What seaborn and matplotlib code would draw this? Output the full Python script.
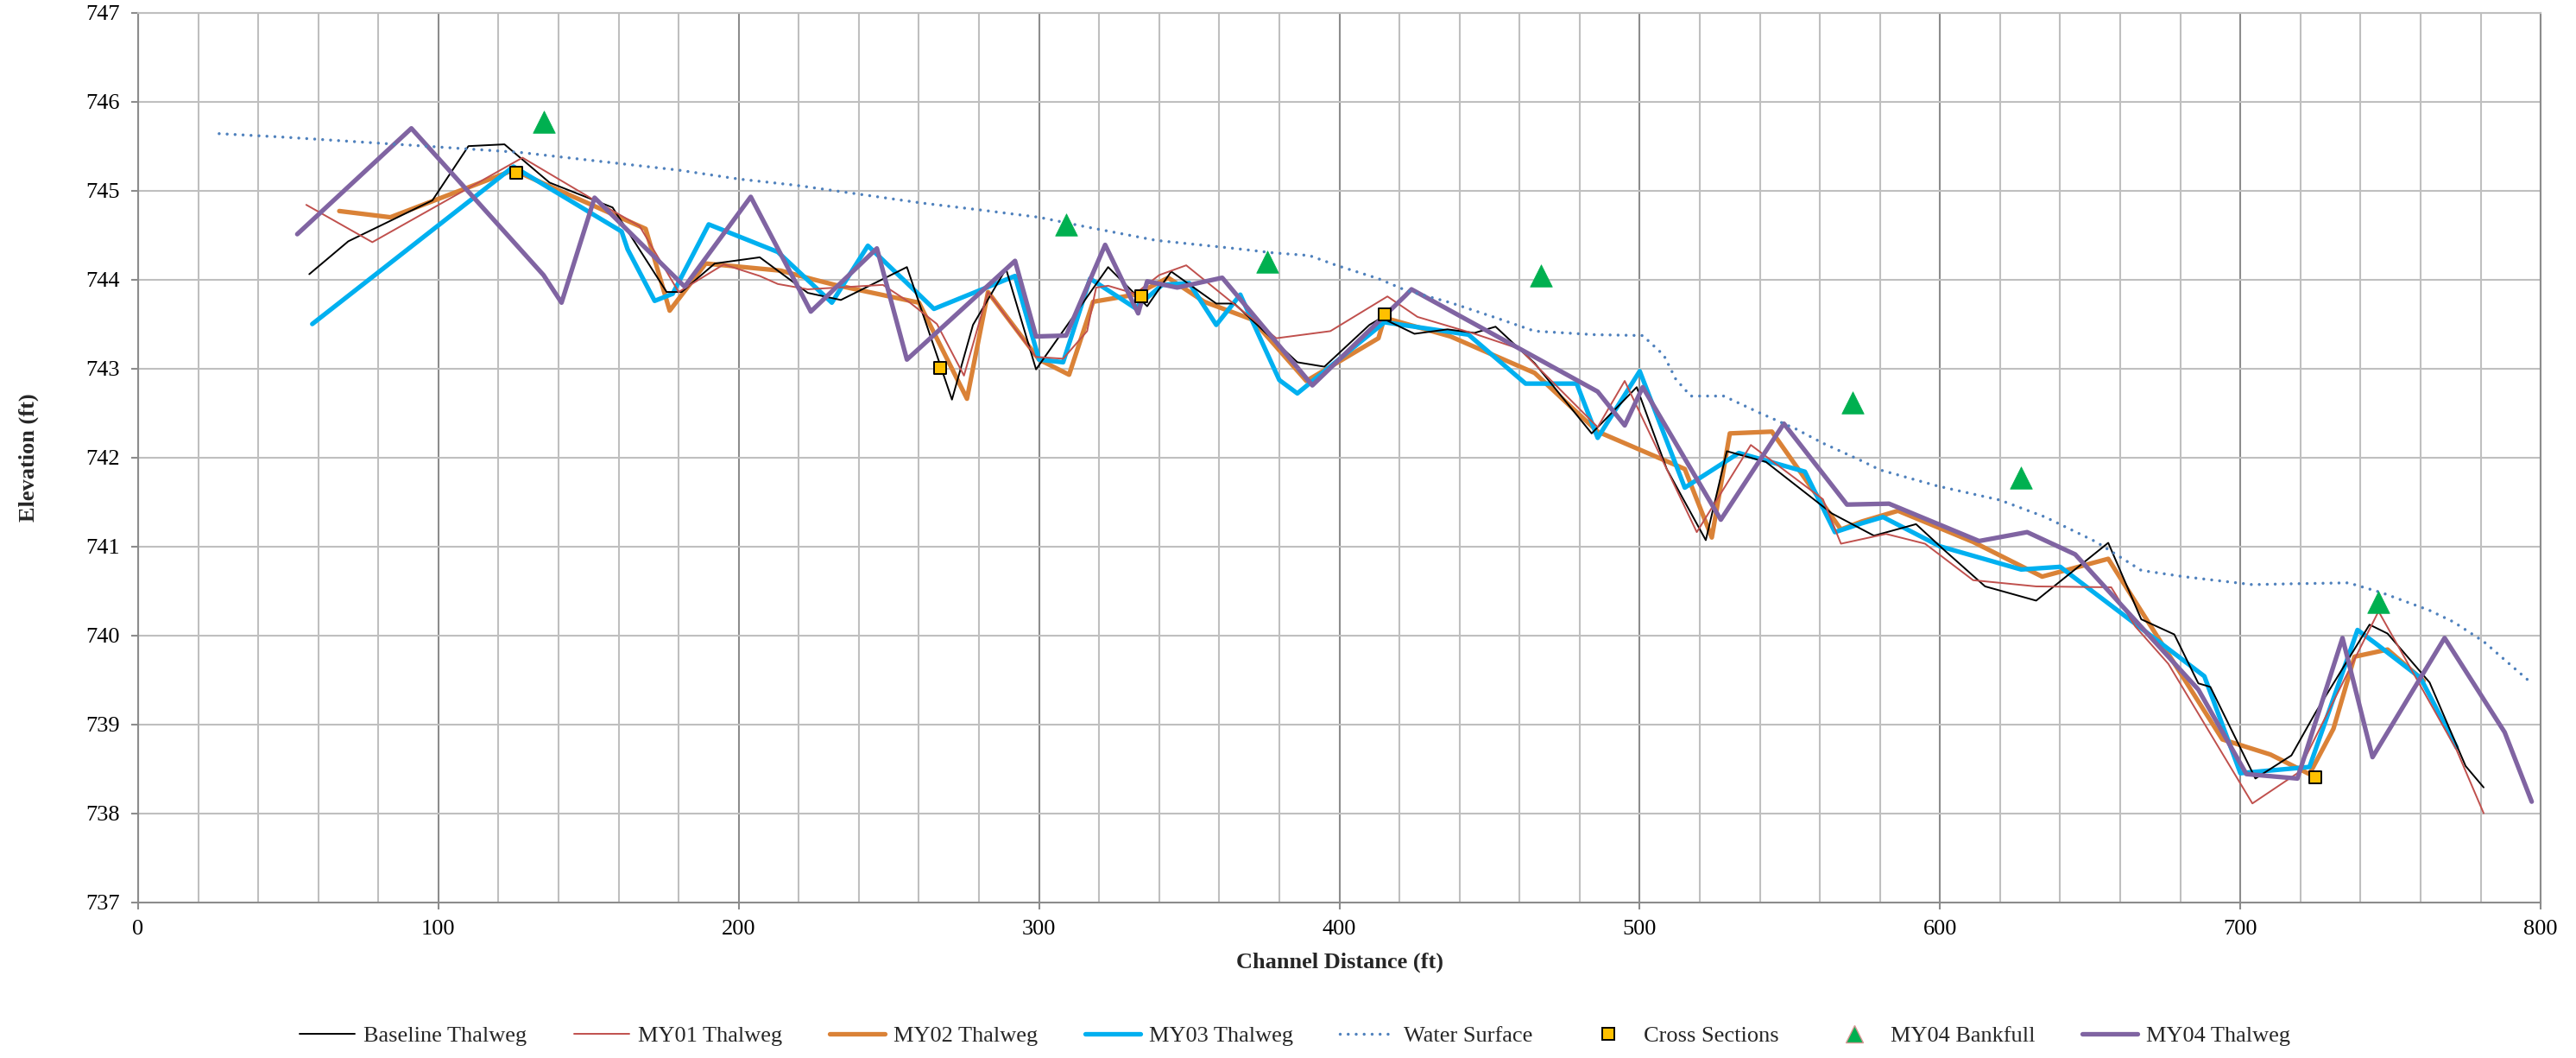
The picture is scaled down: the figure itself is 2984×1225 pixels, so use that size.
import numpy as np
import pandas as pd
import matplotlib
matplotlib.use("Agg")
import matplotlib.pyplot as plt
from matplotlib.lines import Line2D
import seaborn as sns

# ---- longitudinal profile survey data: channel distance (ft) / elevation (ft) ----
baseline_dist = [57, 70, 98, 110, 122, 137, 158, 176, 181, 192, 207, 223, 234, 256, 271,
                 278, 289, 299, 323, 336, 344, 359, 365, 386, 395, 410, 414, 425, 436, 445,
                 452, 465, 484, 499, 509, 522, 529, 542, 564, 578, 592, 601, 615, 632, 656,
                 667, 678, 686, 690, 705, 717, 725, 743, 749, 763, 775, 781]
baseline_elev = [744.06, 744.43, 744.89, 745.50, 745.52, 745.09, 744.81, 743.86, 743.86, 744.18,
                 744.25, 743.85, 743.77, 744.14, 742.65, 743.49, 744.12, 742.99, 744.14, 743.70,
                 744.09, 743.73, 743.73, 743.07, 743.02, 743.49, 743.57, 743.39, 743.44, 743.40,
                 743.47, 743.06, 742.27, 742.79, 741.87, 741.07, 742.07, 741.95, 741.37, 741.12,
                 741.25, 740.97, 740.55, 740.39, 741.04, 740.18, 740.01, 739.46, 739.42, 738.39,
                 738.65, 739.13, 740.12, 740.02, 739.47, 738.53, 738.29]

my01_dist = [56, 78, 128, 152, 167, 180, 195, 207, 213, 223, 248, 257, 266, 275, 283, 299,
             308, 316, 319, 323, 332, 340, 349, 379, 397, 416, 426, 445, 460, 486, 495, 519,
             537, 561, 567, 582, 595, 611, 632, 657, 665, 676, 704, 719, 746, 772, 781]
my01_elev = [744.84, 744.42, 745.37, 744.89, 744.60, 743.86, 744.17, 744.04, 743.95, 743.89,
             743.94, 743.74, 743.50, 742.92, 743.86, 743.13, 743.11, 743.42, 743.91, 743.93,
             743.84, 744.05, 744.16, 743.34, 743.42, 743.81, 743.58, 743.39, 743.22, 742.34,
             742.86, 741.16, 742.14, 741.53, 741.03, 741.14, 741.03, 740.62, 740.55, 740.54,
             740.10, 739.68, 738.11, 738.45, 740.27, 738.71, 738.00]

my02_dist = [67, 84, 125, 169, 177, 189, 214, 225, 232, 260, 276, 283, 300, 310, 318, 332,
             343, 355, 371, 389, 413, 415, 437, 465, 486, 515, 524, 530, 544, 567, 574, 586,
             611, 634, 656, 694, 710, 723, 731, 738, 749, 761]
my02_elev = [744.77, 744.70, 745.23, 744.57, 743.65, 744.18, 744.10, 744.00, 743.94, 743.74,
             742.66, 743.86, 743.10, 742.93, 743.75, 743.83, 744.02, 743.75, 743.55, 742.86,
             743.34, 743.57, 743.36, 742.95, 742.29, 741.87, 741.10, 742.27, 742.29, 741.19,
             741.28, 741.40, 741.05, 740.66, 740.86, 738.83, 738.66, 738.44, 738.95, 739.76,
             739.84, 739.49]

my03_dist = [58, 125, 161, 163, 172, 178, 190, 213, 231, 243, 265, 292, 300, 308, 317, 332,
             341, 350, 359, 367, 380, 386, 415, 443, 462, 479, 486, 500, 515, 533, 555, 565,
             574, 581, 600, 627, 640, 688, 700, 723, 739, 745, 760, 772]
my03_elev = [743.50, 745.27, 744.54, 744.34, 743.76, 743.84, 744.62, 744.31, 743.74, 744.38,
             743.67, 744.04, 743.10, 743.07, 744.01, 743.68, 743.94, 743.96, 743.49, 743.83,
             742.87, 742.72, 743.52, 743.38, 742.83, 742.83, 742.22, 742.97, 741.66, 742.05,
             741.84, 741.16, 741.26, 741.33, 741.00, 740.74, 740.77, 739.54, 738.45, 738.52,
             740.06, 739.91, 739.52, 738.74]

my04_dist = [53, 91, 135, 141, 152, 182, 204, 224, 246, 256, 292, 299, 309, 322, 333, 336,
             346, 361, 391, 422, 424, 486, 495, 501, 527, 548, 569, 583, 613, 629, 645, 686,
             702, 719, 734, 744, 768, 788, 797]
my04_elev = [744.51, 745.70, 744.05, 743.74, 744.92, 743.92, 744.93, 743.64, 744.35, 743.10,
             744.21, 743.36, 743.37, 744.39, 743.62, 743.98, 743.91, 744.02, 742.81, 743.82,
             743.89, 742.74, 742.36, 742.79, 741.30, 742.38, 741.47, 741.48, 741.06, 741.16,
             740.91, 739.39, 738.44, 738.39, 739.97, 738.63, 739.97, 738.91, 738.13]

water_dist = [27, 49, 91, 127, 180, 200, 219, 240, 261, 281, 300, 316, 339, 365, 378, 390,
              399, 413, 422, 437, 453, 465, 485, 501, 508, 512, 517, 528, 540, 552, 561, 574,
              580, 599, 620, 635, 652, 667, 681, 704, 718, 736, 741, 747, 763, 771, 781, 796]
water_elev = [745.64, 745.60, 745.51, 745.43, 745.23, 745.13, 745.06, 744.96, 744.86, 744.78,
              744.70, 744.59, 744.44, 744.35, 744.30, 744.27, 744.16, 744.01, 743.88, 743.74,
              743.56, 743.42, 743.38, 743.37, 743.15, 742.88, 742.69, 742.69, 742.50, 742.32,
              742.16, 741.96, 741.86, 741.68, 741.52, 741.33, 741.05, 740.73, 740.66, 740.57,
              740.58, 740.59, 740.54, 740.48, 740.28, 740.15, 739.93, 739.49]

xsec_dist = [126, 267, 334, 415, 725]
xsec_elev = [745.20, 743.01, 743.81, 743.61, 738.40]

bankfull_dist = [135, 309, 376, 467, 571, 627, 746]
bankfull_elev = [745.77, 744.62, 744.20, 744.05, 742.62, 741.77, 740.37]

series_labels = ["Baseline Thalweg", "MY01 Thalweg", "MY02 Thalweg", "MY03 Thalweg",
                 "Water Surface", "Cross Sections", "MY04 Bankfull", "MY04 Thalweg"]

# ---- colours / styles ----
C_BASE, C_MY01, C_MY02, C_MY03 = "#000000", "#C0504D", "#DA8237", "#00B0F0"
C_WATER, C_XSEC, C_BANK, C_MY04 = "#4F81BD", "#FFC000", "#00B050", "#8064A2"
GRID_LIGHT, GRID_DARK = "#BFBFBF", "#8C8C8C"
THIN, THICK, WATER_LW = 1.4, 3.8, 2.5
WATER_DASH = (0, (0.01, 2.65))

sns.set_style("white")
plt.rcParams["font.family"] = ["Liberation Serif", "DejaVu Serif"]
plt.rcParams["font.size"] = 19

fig = plt.figure(figsize=(29.84, 12.25), dpi=100)
ax = fig.add_axes([0.0536, 0.1473, 0.9327, 0.8407])


def profile(dist, elev):
    return pd.DataFrame({"dist": dist, "elev": elev})


def draw_line(dist, elev, color, lw, z, **kw):
    sns.lineplot(data=profile(dist, elev), x="dist", y="elev", ax=ax, color=color,
                 linewidth=lw, estimator=None, errorbar=None, sort=False,
                 legend=False, zorder=z, **kw)


draw_line(my02_dist, my02_elev, C_MY02, THICK, 2)
draw_line(my03_dist, my03_elev, C_MY03, THICK, 3)
draw_line(baseline_dist, baseline_elev, C_BASE, THIN, 4)
draw_line(my01_dist, my01_elev, C_MY01, THIN, 5)
draw_line(my04_dist, my04_elev, C_MY04, THICK, 6)
draw_line(water_dist, water_elev, C_WATER, WATER_LW, 7,
          linestyle=WATER_DASH, dash_capstyle="round")

sns.scatterplot(data=profile(xsec_dist, xsec_elev), x="dist", y="elev", ax=ax,
                marker="s", s=95, color=C_XSEC, edgecolor="black", linewidth=1.4,
                legend=False, zorder=8)
sns.scatterplot(data=profile(bankfull_dist, bankfull_elev), x="dist", y="elev", ax=ax,
                marker="^", s=340, color=C_BANK, edgecolor=C_BANK, linewidth=0.5,
                legend=False, zorder=9)

# ---- axes, ticks and grid ----
ax.set_xlim(0, 800)
ax.set_ylim(737, 747)
ax.set_xticks(np.arange(0, 801, 100))
ax.set_xticks(np.arange(0, 801, 20), minor=True)
ax.set_yticks(np.arange(737, 748, 1))
ax.set_axisbelow(True)
ax.grid(True, which="minor", axis="x", color=GRID_LIGHT, linewidth=1.5)
ax.grid(True, which="major", axis="x", color=GRID_DARK, linewidth=1.5)
ax.grid(True, which="major", axis="y", color=GRID_LIGHT, linewidth=1.5)

ax.tick_params(axis="x", which="major", direction="out", length=5.5, width=1.5,
               color=GRID_DARK, pad=9, labelsize=19, labelcolor="black")
ax.tick_params(axis="x", which="minor", length=0)
ax.tick_params(axis="y", which="major", direction="out", length=5.5, width=1.5,
               color=GRID_DARK, pad=10, labelsize=19, labelcolor="black")
ax.tick_params(left=True, bottom=True)

for side, col in (("left", GRID_DARK), ("bottom", GRID_DARK),
                  ("right", GRID_DARK), ("top", GRID_LIGHT)):
    ax.spines[side].set_visible(True)
    ax.spines[side].set_color(col)
    ax.spines[side].set_linewidth(1.5)

ax.set_xlabel("Channel Distance (ft)", fontsize=19, fontweight="bold")
ax.set_ylabel("Elevation (ft)", fontsize=19, fontweight="bold")
ax.xaxis.set_label_coords(0.5, -0.0567)
ax.yaxis.set_label_coords(-0.0413, 0.5)

# ---- legend along the bottom ----
handles = [
    Line2D([], [], color=C_BASE, lw=THIN),
    Line2D([], [], color=C_MY01, lw=THIN),
    Line2D([], [], color=C_MY02, lw=THICK),
    Line2D([], [], color=C_MY03, lw=THICK),
    Line2D([], [], color=C_WATER, lw=WATER_LW, linestyle=WATER_DASH, dash_capstyle="round"),
    Line2D([], [], linestyle="none", marker="s", markersize=10, markerfacecolor=C_XSEC,
           markeredgecolor="black", markeredgewidth=1.4),
    Line2D([], [], linestyle="none", marker="^", markersize=14, markerfacecolor=C_BANK,
           markeredgecolor="#D99694", markeredgewidth=1.0),
    Line2D([], [], color=C_MY04, lw=THICK),
]
fig.legend(handles, series_labels, loc="center", bbox_to_anchor=(0.5027, 0.0212),
           ncol=8, frameon=False, fontsize=19, handlelength=2.42, handletextpad=0.38,
           columnspacing=2.08, borderpad=0, borderaxespad=0)

fig.savefig("out.png", dpi=100)
